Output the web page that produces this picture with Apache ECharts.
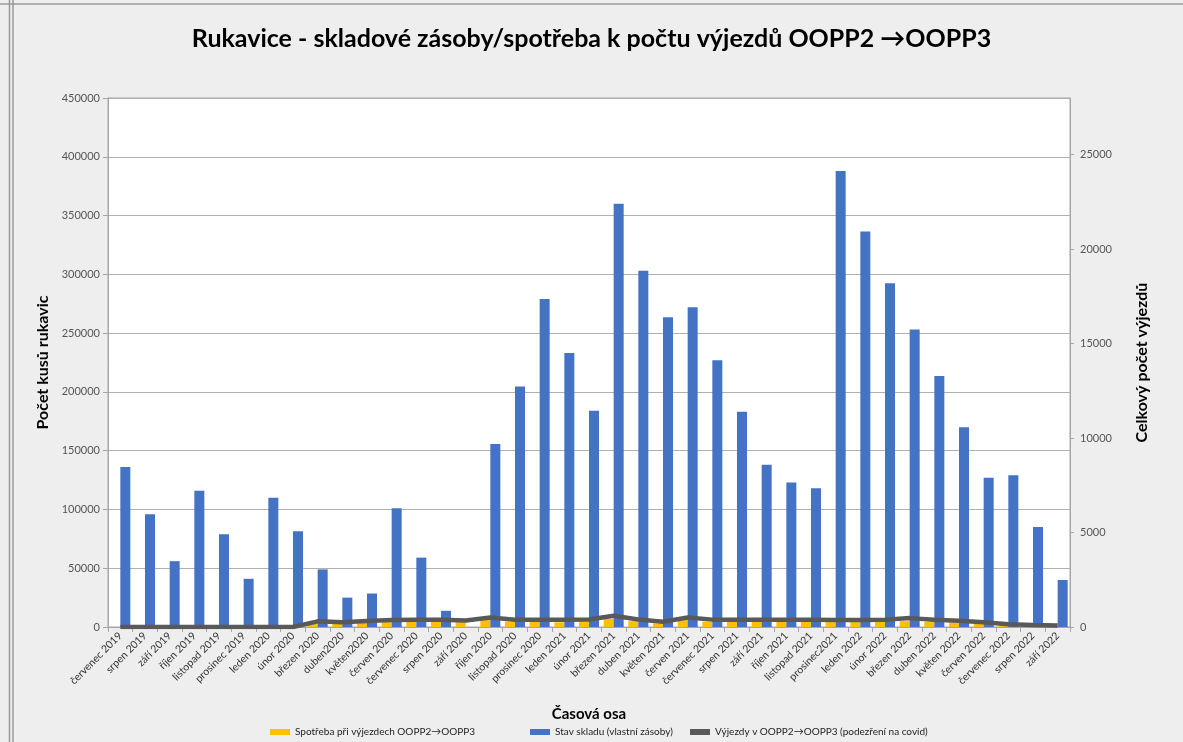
<!DOCTYPE html>
<html>
<head>
<meta charset="utf-8">
<script src="https://cdn.jsdelivr.net/npm/echarts@6/dist/echarts.min.js"></script>
<style>
html,body{margin:0;padding:0;background:#eeeeee;}
#c{width:1183px;height:742px;}
</style>
</head>
<body>
<div id="c"></div>
<script>
const categories = ["červenec 2019","srpen 2019","září 2019","říjen 2019","listopad 2019","prosinec 2019","leden 2020","únor 2020","březen 2020","duben2020","květen2020","červen 2020","červenec 2020","srpen 2020","září 2020","říjen 2020","listopad 2020","prosinec 2020","leden 2021","únor 2021","březen 2021","duben 2021","květen 2021","červen 2021","červenec 2021","srpen 2021","září 2021","říjen 2021","listopad 2021","prosinec2021","leden 2022","únor 2022","březen 2022","duben 2022","květen 2022","červen 2022","červenec 2022","srpen 2022","září 2022"];
const spotreba = [0,0,0,0,0,0,0,0,4000,3500,4000,4500,4500,4500,4500,6000,4500,4500,4000,4500,7000,5000,3000,6000,4500,4500,4500,4500,4500,4500,4500,4500,5000,4500,4000,3000,1000,800,600];
const stavSkladu = [136000,96000,56000,116000,79000,41000,110000,81500,49000,25000,28500,101000,59000,13800,0,155600,204500,279000,233000,184000,360000,303000,263500,272000,227000,183000,138000,123000,118000,388000,336500,292500,253000,213500,170000,127000,129000,85000,40000];
const vyjezdy = [0,0,0,0,0,0,0,0,300,250,320,370,380,380,340,500,380,380,380,400,600,400,280,500,390,390,390,390,390,370,370,390,470,380,330,250,150,110,80];

const names = ["Spotřeba při výjezdech OOPP2→OOPP3","Stav skladu (vlastní zásoby)","Výjezdy v OOPP2→OOPP3 (podezření na covid)"];
const FONT = "Lato, 'DejaVu Sans', sans-serif";

const chart = echarts.init(document.getElementById('c'));
const legendBase = {
  top: 727, icon: 'rect', itemWidth: 20, itemHeight: 6, padding: 0, itemGap: 0,
  textStyle: {fontSize: 10, color: '#222', fontFamily: FONT}
};
const plain = v => String(v);
chart.setOption({
  backgroundColor: '#eeeeee',
  animation: false,
  title: {
    text: 'Rukavice - skladové zásoby/spotřeba k počtu výjezdů OOPP2 →OOPP3',
    left: 'center', top: 21,
    textStyle: {fontSize: 25, fontWeight: 'bold', color: '#000', fontFamily: FONT}
  },
  legend: [
    Object.assign({}, legendBase, {left: 270, data: [names[0]]}),
    Object.assign({}, legendBase, {left: 530, data: [names[1]]}),
    Object.assign({}, legendBase, {left: 690, data: [names[2]]})
  ],
  graphic: [
    {type:'line', shape:{x1:9.5,y1:0,x2:9.5,y2:742}, style:{stroke:'#9a9a9a',lineWidth:1.5}},
    {type:'line', shape:{x1:13,y1:0,x2:13,y2:742}, style:{stroke:'#9a9a9a',lineWidth:1.5}},
    {type:'line', shape:{x1:0,y1:4,x2:1183,y2:4}, style:{stroke:'#9a9a9a',lineWidth:1.5}}
  ],
  grid: {
    left: 108, right: 113, top: 98, bottom: 115,
    show: true, backgroundColor: '#ffffff', borderColor: '#a6a6a6', borderWidth: 1
  },
  xAxis: {
    type: 'category', data: categories,
    name: 'Časová osa', nameLocation: 'middle', nameGap: 80,
    nameTextStyle: {fontSize: 15, fontWeight: 'bold', color: '#000', fontFamily: FONT},
    axisLine: {lineStyle: {color: '#a6a6a6'}},
    axisTick: {show: true, length: 5, lineStyle: {color: '#a6a6a6'}},
    axisLabel: {rotate: 45, interval: 0, fontSize: 10.5, color: '#333', margin: 7, fontFamily: FONT}
  },
  yAxis: [
    {
      type: 'value', min: 0, max: 450000, interval: 50000,
      name: 'Počet kusů rukavic', nameLocation: 'middle', nameGap: 56, nameRotate: 90,
      nameTextStyle: {fontSize: 16, fontWeight: 'bold', color: '#000', fontFamily: FONT},
      axisLine: {show: true, lineStyle: {color: '#a6a6a6'}},
      axisTick: {show: true, length: 5, lineStyle: {color: '#a6a6a6'}},
      axisLabel: {fontSize: 11, color: '#555', margin: 8, fontFamily: FONT, formatter: plain},
      splitLine: {lineStyle: {color: '#b0b0b0'}}
    },
    {
      type: 'value', min: 0, max: 28000, interval: 5000, position: 'right',
      name: 'Celkový počet výjezdů', nameLocation: 'middle', nameGap: 64, nameRotate: 90,
      nameTextStyle: {fontSize: 16, fontWeight: 'bold', color: '#000', fontFamily: FONT},
      axisLine: {show: true, lineStyle: {color: '#a6a6a6'}},
      axisTick: {show: true, length: 4, lineStyle: {color: '#a6a6a6'}},
      axisLabel: {fontSize: 11, color: '#555', margin: 10, showMaxLabel: false, fontFamily: FONT, formatter: plain},
      splitLine: {show: false}
    }
  ],
  series: [
    {name: names[0], type: 'bar', data: spotreba, yAxisIndex: 0, barWidth: 10, barGap: '0%',
     itemStyle: {color: '#ffc000'}},
    {name: names[1], type: 'bar', data: stavSkladu, yAxisIndex: 0, barWidth: 10, barGap: '0%',
     itemStyle: {color: '#4472c4'}},
    {name: names[2], type: 'line', data: vyjezdy, yAxisIndex: 1, showSymbol: false, symbol: 'none',
     lineStyle: {color: '#595959', width: 4.5}, itemStyle: {color: '#595959'}, z: 5}
  ]
});
</script>
</body>
</html>
